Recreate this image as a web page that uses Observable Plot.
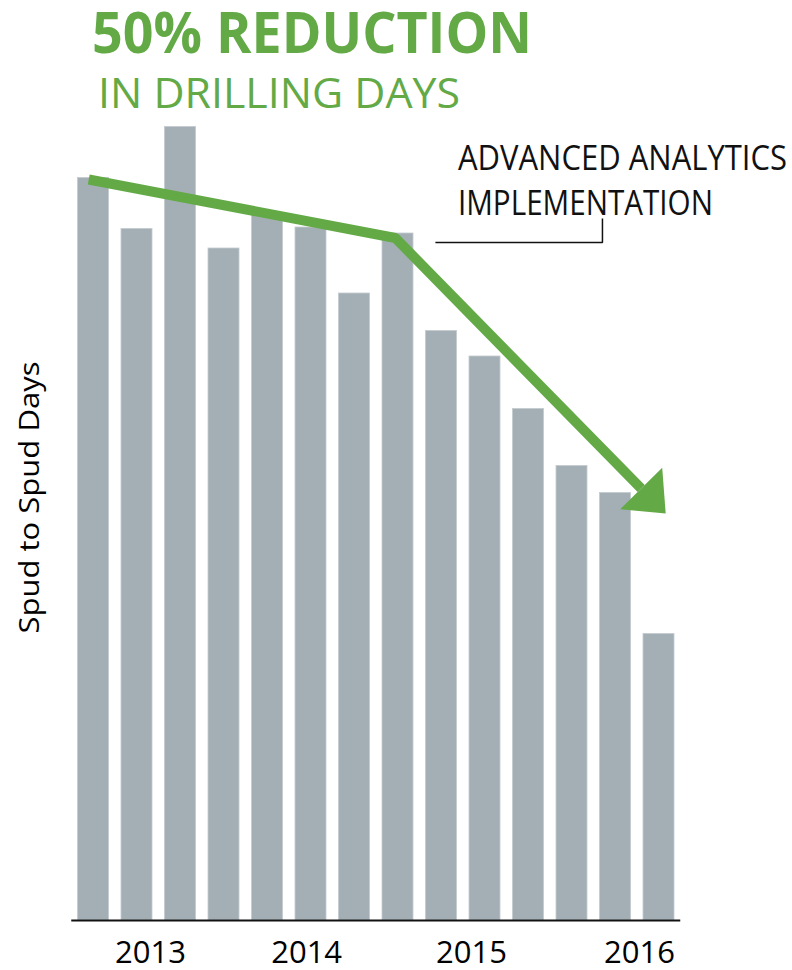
<!DOCTYPE html>
<html><head><meta charset="utf-8">
<script src="https://cdn.jsdelivr.net/npm/d3@7"></script>
<script src="https://cdn.jsdelivr.net/npm/@observablehq/plot@0.6"></script>
<style>
body{margin:0;background:#fff;}
#wrap{width:792px;height:970px;overflow:hidden;}
</style></head><body><div id="wrap"></div>
<script>
// ---- data ----
const periods = ["Q1 2013","Q2 2013","Q3 2013","Q4 2013","Q1 2014","Q2 2014","Q3 2014","Q4 2014","Q1 2015","Q2 2015","Q3 2015","Q4 2015","Q1 2016","Q2 2016"];
const spudDays = [49.5, 46.1, 52.9, 44.8, 47.1, 46.2, 41.8, 45.8, 39.3, 37.6, 34.1, 30.3, 28.5, 19.1];
const yearLabels = ["2013", "2014", "2015", "2016"];
const yearTickPos = [1.81, 5.4, 9.19, 13.05];
// trend arrow (period index, days)
const trendIdx = [0.39, 7.44, 13.09];
const trendDays = [49.4, 45.5, 28.8];
// annotation leader (period index, days)
const leaderIdx = [8.36, 12.2, 12.2];
const leaderDays = [45.2, 45.2, 46.8];
const annoLines = ["ADVANCED ANALYTICS", "IMPLEMENTATION"];
const annoIdx = 8.89;
const annoDays = [50.0, 47.0];
const title = "50% REDUCTION";
const subtitle = "IN DRILLING DAYS";
const yLabel = "Spud to Spud Days";

const GREEN = "#63aa47";
const GRAY = "#a4afb5";

const bars = periods.map((p, i) => ({period: p, i, days: spudDays[i]}));
const trend = trendIdx.map((x, k) => ({x, y: trendDays[k]}));
const leader = leaderIdx.map((x, k) => ({x, y: leaderDays[k]}));
const yearMap = new Map(yearTickPos.map((p, k) => [p, yearLabels[k]]));

const headSymbol = {
  draw(ctx) {
    ctx.moveTo(35, 0);
    ctx.lineTo(0, -29.5);
    ctx.lineTo(0, 29.5);
    ctx.closePath();
  }
};

const chart = Plot.plot({
  width: 792,
  height: 970,
  marginLeft: 71.25,
  marginRight: 111.75,
  marginTop: 110,
  marginBottom: 50,
  x: {type: "linear", domain: [0, 14]},
  y: {domain: [0, 54]},
  style: {fontFamily: "'Open Sans', sans-serif", color: "#000", background: "#fff", overflow: "visible"},
  marks: [
    Plot.rectY(bars, {x1: d => d.i, x2: d => d.i + 1, y: "days", fill: GRAY, stroke: "#c3cbcf", strokeWidth: 0.8, insetLeft: 6.25, insetRight: 6.25}),
    Plot.ruleY([0], {stroke: "#111", strokeWidth: 2}),
    Plot.axisX(yearTickPos, {tickSize: 0, tickPadding: 20, fontSize: 31, tickFormat: d => yearMap.get(d), label: null}),
    Plot.axisY([], {label: yLabel, labelAnchor: "center", labelArrow: "none", labelOffset: 53, fontSize: 28, tickSize: 0}),
    Plot.line(leader, {x: "x", y: "y", stroke: "#111", strokeWidth: 1.5, strokeLinejoin: "miter", strokeLinecap: "butt"}),
    Plot.line(trend, {x: "x", y: "y", stroke: GREEN, strokeWidth: 10, strokeLinejoin: "miter", strokeLinecap: "butt"}),
    Plot.dot([trend[trend.length - 1]], {x: "x", y: "y", symbol: headSymbol, r: 10, fill: GREEN, stroke: "none", rotate: 45.5})
  ]
});

document.getElementById("wrap").appendChild(chart);

const svg = d3.select(chart);
const xs = chart.scale("x"), ys = chart.scale("y");

// fit axis label
svg.selectAll("text").each(function() {
  if (this.textContent === yLabel) {
    d3.select(this).attr("textLength", 272).attr("lengthAdjust", "spacingAndGlyphs").attr("dx", 18);
  }
});

// annotation text, anchored to data
annoLines.forEach((s, k) => {
  svg.append("text")
    .attr("x", xs.apply(annoIdx))
    .attr("y", ys.apply(annoDays[k]))
    .attr("text-anchor", "start")
    .attr("font-family", "'Open Sans', sans-serif")
    .attr("font-size", 34)
    .attr("fill", "#111")
    .attr("textLength", k === 0 ? 329 : 255)
    .attr("lengthAdjust", "spacingAndGlyphs")
    .text(s);
});

// title & subtitle
svg.append("text")
  .attr("x", 92).attr("y", 53)
  .attr("text-anchor", "start")
  .attr("font-family", "'Open Sans', sans-serif")
  .attr("font-weight", 700)
  .attr("font-size", 57)
  .attr("fill", GREEN)
  .attr("textLength", 440)
  .attr("lengthAdjust", "spacingAndGlyphs")
  .text(title);
svg.append("text")
  .attr("x", 98).attr("y", 108)
  .attr("text-anchor", "start")
  .attr("font-family", "'Open Sans', sans-serif")
  .attr("font-size", 42)
  .attr("fill", GREEN)
  .attr("textLength", 362)
  .attr("lengthAdjust", "spacingAndGlyphs")
  .text(subtitle);
</script>
</body></html>
